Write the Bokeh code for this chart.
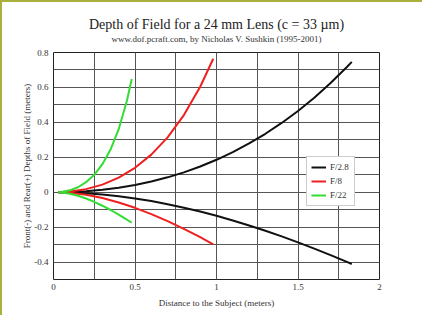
from bokeh.plotting import figure
from bokeh.models import FixedTicker, Legend, LegendItem, Range1d, Title
from bokeh.embed import file_html
from bokeh.resources import INLINE

# Distance to subject (m) and rear(+)/front(-) depth of field (m)
s_28 = [0.03, 0.1, 0.2, 0.3, 0.4, 0.5, 0.6, 0.7, 0.8, 0.9, 1.0, 1.1, 1.2, 1.3, 1.4, 1.5, 1.6, 1.7, 1.8, 1.83]
rear_28 = [0.0, 0.0012, 0.0058, 0.0139, 0.0257, 0.0413, 0.0611, 0.0851, 0.1137, 0.1471, 0.1856,
           0.2295, 0.2790, 0.3346, 0.3965, 0.4653, 0.5414, 0.6251, 0.7171, 0.7464]
front_28 = [0.0, -0.0012, -0.0055, -0.0127, -0.0228, -0.0355, -0.0507, -0.0685, -0.0886, -0.1109, -0.1354,
            -0.1619, -0.1904, -0.2209, -0.2531, -0.2872, -0.3229, -0.3602, -0.3991, -0.4111]

s_8 = [0.03, 0.1, 0.2, 0.3, 0.4, 0.5, 0.6, 0.7, 0.8, 0.9, 0.98]
rear_8 = [0.0001, 0.0036, 0.0175, 0.0434, 0.0833, 0.1395, 0.2152, 0.3142, 0.4415, 0.6037, 0.7642]
front_8 = [-0.0001, -0.0034, -0.0149, -0.0337, -0.0588, -0.0895, -0.1253, -0.1656, -0.2099, -0.2578, -0.2986]

s_22 = [0.03, 0.05, 0.1, 0.15, 0.2, 0.25, 0.3, 0.35, 0.4, 0.45, 0.48]
rear_22 = [0.0002, 0.0017, 0.0106, 0.0283, 0.0571, 0.0996, 0.1602, 0.2443, 0.3607, 0.5223, 0.648]
front_22 = [-0.0002, -0.0016, -0.0087, -0.0206, -0.0363, -0.0554, -0.0775, -0.1020, -0.1287, -0.1573, -0.175]

series_names = ["F/2.8", "F/8", "F/22"]
series_colors = ["#111111", "#ee2020", "#33dd33"]

x_ticks = [0, 0.5, 1, 1.5, 2]
x_tick_labels = ["0", "0.5", "1", "1.5", "2"]
y_ticks = [-0.4, -0.2, 0, 0.2, 0.4, 0.6, 0.8]
y_tick_labels = ["-0.4", "-0.2", "0", "0.2", "0.4", "0.6", "0.8"]
x_grid = [0.25, 0.5, 0.75, 1.0, 1.25, 1.5, 1.75]
y_grid = [-0.4, -0.3, -0.2, -0.1, 0.0, 0.1, 0.2, 0.3, 0.4, 0.5, 0.6, 0.7]

title_text = "Depth of Field for a 24 mm Lens (c = 33 \u00b5m)"
subtitle_text = "www.dof.pcraft.com, by Nicholas V. Sushkin (1995-2001)"
xlabel_text = "Distance to the Subject (meters)"
ylabel_text = "Front(-) and Rear(+) Depths of Field (meters)"

FONT = "Liberation Serif"

p = figure(width=422, height=315, output_backend="svg", toolbar_location=None,
           x_range=Range1d(0, 2), y_range=Range1d(-0.5, 0.8),
           min_border_left=33, min_border_right=62, min_border_top=50, min_border_bottom=38)
p.background_fill_color = "white"
p.border_fill_color = "white"
p.outline_line_color = "#222222"
p.outline_line_width = 1
p.styles = {"border-top": "2px solid #a9b03b", "border-left": "2px solid #a9b03b",
            "padding-left": "17px", "box-sizing": "border-box", "background-color": "white"}

for ax, ticks, labels in ((p.xaxis[0], x_ticks, x_tick_labels), (p.yaxis[0], y_ticks, y_tick_labels)):
    ax.ticker = FixedTicker(ticks=ticks)
    ax.major_label_overrides = {t: l for t, l in zip(ticks, labels)}
    ax.axis_line_color = None
    ax.major_tick_line_color = None
    ax.minor_tick_line_color = None
    ax.major_tick_out = 0
    ax.major_tick_in = 0
    ax.minor_tick_out = 0
    ax.minor_tick_in = 0
    ax.major_label_text_font = FONT
    ax.major_label_text_font_size = "9px"
    ax.major_label_text_color = "#333333"
    ax.axis_label_text_font = FONT
    ax.axis_label_text_font_style = "normal"
    ax.axis_label_text_font_size = "9px"
    ax.axis_label_text_color = "#333333"
p.xaxis.major_label_standoff = 4
p.yaxis.major_label_standoff = 5
p.xaxis.axis_label = xlabel_text
p.xaxis.axis_label_standoff = 5

p.xgrid.ticker = FixedTicker(ticks=x_grid)
p.ygrid.ticker = FixedTicker(ticks=y_grid)
for g in (p.xgrid[0], p.ygrid[0]):
    g.grid_line_color = "#555555"
    g.grid_line_width = 1

items = []
for name, color, s, rear, front in zip(series_names, series_colors,
                                        [s_28, s_8, s_22], [rear_28, rear_8, rear_22],
                                        [front_28, front_8, front_22]):
    r1 = p.line(s, rear, line_color=color, line_width=2)
    r2 = p.line(s, front, line_color=color, line_width=2)
    items.append(LegendItem(label=name, renderers=[r1]))

legend = Legend(items=items, location=(253, 73), label_text_font=FONT, label_text_font_size="9px",
                label_text_color="#333333", glyph_width=15, glyph_height=12, label_height=12,
                spacing=2, padding=4, margin=0, label_standoff=4,
                border_line_color="#999999", border_line_width=1, background_fill_alpha=1)
p.add_layout(legend, "center")

# y-axis title placed as a side title next to the tick labels
p.add_layout(Title(text=ylabel_text, align="center", text_font=FONT, text_font_size="9px",
                   text_font_style="normal", text_color="#333333", standoff=0), "left")

# spacer, then subtitle, then main title (stacked upward from the frame)
p.add_layout(Title(text=" ", text_font_size="1px", standoff=5.5), "above")
p.add_layout(Title(text=subtitle_text, align="center", text_font=FONT, text_font_size="9px",
                   text_font_style="normal", text_color="#333333", standoff=0), "above")
p.add_layout(Title(text=title_text, align="center", text_font=FONT, text_font_size="14px",
                   text_font_style="normal", text_color="#222222", standoff=0), "above")

open("out.html", "w").write(file_html(p, INLINE))
